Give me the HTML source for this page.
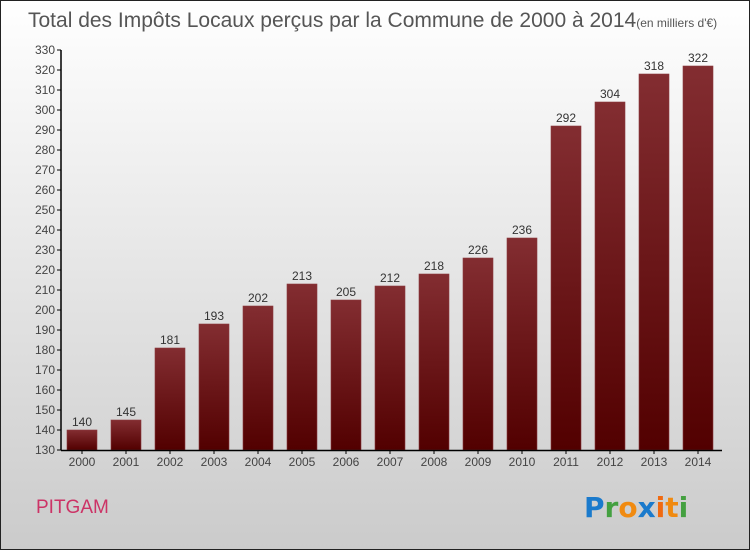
<!DOCTYPE html>
<html><head><meta charset="utf-8"><style>
body{margin:0;width:750px;height:550px;overflow:hidden;font-family:"Liberation Sans",sans-serif}
</style></head><body>
<svg width="750" height="550" xmlns="http://www.w3.org/2000/svg">
<defs>
<linearGradient id="bg" x1="0" y1="0" x2="0" y2="1"><stop offset="0" stop-color="#ffffff"/><stop offset="1" stop-color="#cbcbcb"/></linearGradient>
<linearGradient id="bar" x1="0" y1="0" x2="0" y2="1"><stop offset="0" stop-color="#832d31"/><stop offset="1" stop-color="#520000"/></linearGradient>
</defs>
<rect x="0.5" y="0.5" width="749" height="549" fill="url(#bg)" stroke="#222"/>
<text x="28" y="27" font-size="21" fill="#555">Total des Impôts Locaux perçus par la Commune de 2000 à 2014<tspan font-size="12">(en milliers d'€)</tspan></text>
<g id="plot"></g>
<text x="36" y="513" font-size="19" fill="#cc3366">PITGAM</text>
<g font-size="28" font-weight="bold" font-family="DejaVu Sans, sans-serif">
<text x="584" y="517"><tspan fill="#1a7acc">P</tspan><tspan fill="#44a040">r</tspan><tspan fill="#f08a10">o</tspan><tspan fill="#1a7acc">x</tspan><tspan fill="#f06a10">i</tspan><tspan fill="#f08a10">t</tspan><tspan fill="#44a040">i</tspan></text>
</g>
</svg>
<script>
const years=["2000","2001","2002","2003","2004","2005","2006","2007","2008","2009","2010","2011","2012","2013","2014"];
const values=[140,145,181,193,202,213,205,212,218,226,236,292,304,318,322];
const yTicks=[130,140,150,160,170,180,190,200,210,220,230,240,250,260,270,280,290,300,310,320,330];
const NS="http://www.w3.org/2000/svg";
const g=document.getElementById('plot');
const y0=130,y1=330,py0=450,py1=50;
function y(v){return py0-(v-y0)/(y1-y0)*(py0-py1);}
function x(i){return 67+i*44;}
function mk(t,a,txt){const e=document.createElementNS(NS,t);for(const k in a)e.setAttribute(k,a[k]);if(txt!=null)e.textContent=txt;g.appendChild(e);return e;}
yTicks.forEach(v=>{
 const l=mk('line',{x1:57,x2:61,y1:y(v),y2:y(v),stroke:'#000'});
 
 
 const t=mk('text',{x:55,y:y(v)+4,'text-anchor':'end','font-size':12,fill:'#444'},v);
 
 
});
values.forEach((v,i)=>{
 const r=mk('rect',{x:x(i),y:y(v),width:30,height:py0-y(v),fill:'url(#bar)',stroke:'#8a3a3e','stroke-width':0.6});
 
 
 const t=mk('text',{x:x(i)+15,y:y(v)-4,'text-anchor':'middle','font-size':12,fill:'#333'},v);
 
 
 const tl=mk('line',{x1:x(i)+15,x2:x(i)+15,y1:450,y2:454,stroke:'#000'});
 
 
 const xl=mk('text',{x:x(i)+15,y:466,'text-anchor':'middle','font-size':12,fill:'#444'},years[i]);
 
 
});
const ya=mk('line',{x1:61,x2:61,y1:50,y2:450.5,stroke:'#000','stroke-width':1.5});


const xa=mk('line',{x1:61,x2:722,y1:450.5,y2:450.5,stroke:'#000','stroke-width':1.5});


</script>
</body></html>
